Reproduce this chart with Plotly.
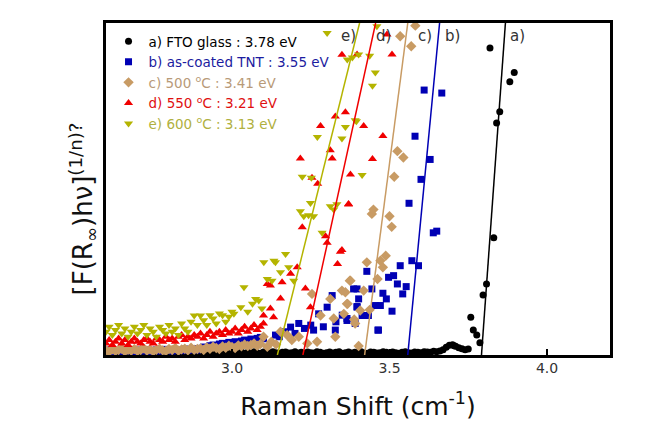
import plotly.graph_objects as go

# ---------------- data (photon energy in eV, intensity in arbitrary units) ----------------
# a) FTO glass
a_x = [2.60, 2.61, 2.62, 2.63, 2.64, 2.65, 2.66, 2.67, 2.68, 2.69,
       2.70, 2.71, 2.72, 2.73, 2.74, 2.75, 2.76, 2.77, 2.78, 2.79,
       2.80, 2.81, 2.82, 2.83, 2.84, 2.85, 2.86, 2.87, 2.88, 2.89,
       2.90, 2.91, 2.92, 2.93, 2.94, 2.95, 2.96, 2.97, 2.98, 2.99,
       3.00, 3.01, 3.02, 3.03, 3.04, 3.05, 3.06, 3.07, 3.08, 3.09,
       3.10, 3.11, 3.12, 3.13, 3.14, 3.15, 3.16, 3.17, 3.18, 3.19,
       3.20, 3.21, 3.22, 3.23, 3.24, 3.25, 3.26, 3.27, 3.28, 3.29,
       3.30, 3.31, 3.32, 3.33, 3.34, 3.35, 3.36, 3.37, 3.38, 3.39,
       3.40, 3.41, 3.42, 3.43, 3.44, 3.45, 3.46, 3.47, 3.48, 3.49,
       3.50, 3.51, 3.52, 3.53, 3.54, 3.55, 3.56, 3.57, 3.58, 3.59,
       3.60, 3.61, 3.62, 3.63, 3.64, 3.65, 3.66,
       3.67, 3.68, 3.69, 3.70, 3.705, 3.71, 3.72, 3.73, 3.74, 3.75,
       3.758, 3.766, 3.777, 3.787, 3.797, 3.808, 3.831, 3.840, 3.850, 3.882, 3.896, 3.819]
a_y = [0.6, 0.9, 0.5, 0.8, 1.0, 0.6, 0.7, 0.4, 0.9, 0.6,
       0.8, 0.5, 1.0, 0.7, 0.6, 0.9, 0.5, 0.8, 0.7, 1.0,
       0.6, 0.4, 0.8, 0.9, 0.6, 0.7, 1.0, 0.5, 0.8, 0.6,
       0.9, 0.7, 0.5, 1.0, 0.8, 0.6, 0.9, 0.7, 0.4, 0.8,
       1.0, 0.6, 0.7, 0.9, 0.5, 0.8, 0.6, 1.0, 0.7, 0.5,
       0.9, 0.8, 0.6, 1.0, 0.7, 0.5, 0.8, 0.9, 0.6, 0.7,
       1.0, 0.6, 0.8, 0.5, 0.9, 0.7, 0.6, 1.0, 0.8, 0.5,
       0.7, 0.9, 0.6, 0.8, 1.0, 0.5, 0.7, 0.9, 0.6, 0.8,
       0.7, 1.0, 0.6, 0.5, 0.9, 0.8, 0.6, 0.7, 1.0, 0.8,
       0.6, 0.9, 0.7, 0.5, 0.8, 1.0, 0.7, 0.6, 0.9, 0.8,
       0.7, 1.0, 0.9, 0.8, 1.1, 1.0, 1.2,
       1.6, 2.3, 2.9, 3.1, 2.8, 2.6, 2.2, 1.9, 1.6, 1.8,
       11.4, 7.5, 6.0, 3.7, 18.1, 21.4, 35.3, 69.9, 73.3, 82.3, 85.1, 92.5]

# b) as-coated TNT
b_x = [2.60, 2.61, 2.62, 2.63, 2.64, 2.65, 2.66, 2.67, 2.68, 2.69,
       2.70, 2.71, 2.72, 2.73, 2.74, 2.75, 2.76, 2.77, 2.78, 2.79,
       2.80, 2.81, 2.82, 2.83, 2.84, 2.85, 2.86, 2.87, 2.88, 2.89,
       2.90, 2.91, 2.92, 2.93, 2.94, 2.95, 2.96, 2.97, 2.98, 2.99,
       3.00, 3.01, 3.02, 3.03, 3.04, 3.05, 3.06, 3.07, 3.08, 3.09, 3.10,
       3.138, 3.15, 3.17, 3.186, 3.20, 3.212, 3.23, 3.25, 3.259, 3.275, 3.29,
       3.302, 3.318, 3.328, 3.33, 3.35, 3.365, 3.365, 3.386, 3.391, 3.397,
       3.397, 3.397, 3.402, 3.413, 3.428, 3.433, 3.444, 3.455, 3.463, 3.465,
       3.471, 3.479, 3.490, 3.497, 3.508, 3.513, 3.525, 3.534, 3.542, 3.553,
       3.562, 3.571, 3.581, 3.592, 3.600, 3.610, 3.629, 3.639, 3.650, 3.666]
b_y = [1.2, 1.5, 1.0, 1.4, 1.3, 1.1, 1.6, 1.2, 1.4, 1.0,
       1.5, 1.3, 1.2, 1.6, 1.1, 1.4, 1.5, 1.2, 1.3, 1.7,
       1.4, 1.2, 1.6, 1.5, 1.3, 1.8, 1.4, 1.6, 1.9, 1.5,
       2.0, 2.4, 2.1, 2.8, 3.0, 2.6, 3.3, 3.5, 3.1, 3.8,
       3.5, 4.0, 3.7, 4.2, 4.5, 4.1, 4.8, 4.4, 5.0, 5.3, 4.9,
       6.0, 5.5, 7.0, 8.4, 6.5, 9.5, 8.0, 9.0, 7.5, 12.4, 8.5,
       14.4, 17.9, 7.5, 10.0, 12.0, 11.0, 10.4, 19.9, 9.5, 14.4,
       19.9, 14.6, 16.9, 11.9, 25.2, 11.9, 19.9, 14.9, 7.5, 7.5,
       14.9, 18.6, 16.9, 23.4, 13.2, 23.9, 21.4, 26.9, 18.4, 20.6,
       45.7, 28.4, 65.9, 26.9, 52.9, 79.8, 58.9, 36.8, 37.3, 78.9]

# c) 500 oC
c_x = [2.60, 2.61, 2.62, 2.63, 2.64, 2.65, 2.66, 2.67, 2.68, 2.69,
       2.70, 2.71, 2.72, 2.73, 2.74, 2.75, 2.76, 2.77, 2.78, 2.79,
       2.80, 2.81, 2.82, 2.83, 2.84, 2.85, 2.86, 2.87, 2.88, 2.89,
       2.90, 2.91, 2.92, 2.93, 2.94, 2.95, 2.96, 2.97, 2.98, 2.99,
       3.00, 3.01, 3.02, 3.03, 3.04, 3.05, 3.06, 3.07, 3.08, 3.09, 3.10,
       3.112, 3.125, 3.14, 3.154, 3.175, 3.19, 3.212, 3.239, 3.254, 3.270,
       3.281, 3.312, 3.323, 3.328, 3.349, 3.355, 3.360, 3.365, 3.367, 3.374,
       3.376, 3.388, 3.391, 3.402, 3.407, 3.418, 3.428, 3.437, 3.444, 3.449,
       3.462, 3.471, 3.479, 3.488, 3.500, 3.507, 3.515, 3.525, 3.544, 3.534,
       3.569, 3.582]
c_y = [1.4, 1.0, 1.7, 1.2, 1.5, 1.9, 1.1, 1.6, 1.3, 1.8,
       1.2, 1.5, 2.0, 1.3, 1.7, 1.1, 1.6, 1.9, 1.4, 1.2,
       1.8, 1.5, 2.1, 1.3, 1.7, 1.9, 1.4, 2.2, 1.6, 1.8,
       2.0, 1.5, 2.3, 1.9, 2.5, 2.1, 1.8, 2.6, 2.2, 2.8,
       2.4, 2.1, 2.9, 2.6, 3.2, 2.7, 3.0, 3.5, 2.8, 3.3, 5.5,
       2.5, 4.0, 3.2, 7.0, 6.0, 4.5, 5.5, 3.5, 18.4, 4.0,
       11.9, 16.9, 11.0, 5.5, 19.4, 12.4, 18.9, 15.4, 15.4, 22.4,
       22.4, 10.7, 9.5, 2.7, 13.4, 19.4, 27.9, 13.6, 42.5, 43.8,
       22.9, 28.4, 26.4, 29.9, 41.8, 38.6, 53.7, 61.4, 59.5, 96.0,
       93.0, 99.2]

# d) 550 oC
d_x = [2.60, 2.61, 2.62, 2.63, 2.64, 2.65, 2.66, 2.67, 2.68, 2.69,
       2.70, 2.71, 2.72, 2.73, 2.74, 2.75, 2.76, 2.77, 2.78, 2.79,
       2.80, 2.81, 2.82, 2.83, 2.84, 2.85, 2.86, 2.87, 2.88, 2.89,
       2.90, 2.91, 2.92, 2.93, 2.94, 2.95, 2.96, 2.97, 2.98, 2.99,
       3.00, 3.01, 3.02, 3.03, 3.04, 3.05, 3.06, 3.07, 3.08, 3.09, 3.10,
       3.100, 3.112, 3.122, 3.122, 3.132, 3.154, 3.159, 3.186, 3.207, 3.217,
       3.223, 3.233, 3.249, 3.254, 3.272, 3.281, 3.297, 3.302, 3.312, 3.318,
       3.328, 3.335, 3.344, 3.349, 3.349, 3.360, 3.370, 3.370, 3.376, 3.397,
       3.418, 3.446, 3.479, 3.492, 3.508]
d_y = [3.5, 4.5, 3.0, 4.0, 5.0, 3.5, 4.5, 3.0, 4.0, 5.0,
       4.0, 3.5, 4.5, 5.0, 4.0, 3.5, 5.0, 4.5, 4.0, 5.5,
       4.5, 5.0, 4.0, 5.5, 6.0, 4.5, 5.5, 5.0, 6.0, 5.5,
       6.5, 5.0, 6.0, 7.0, 5.5, 6.5, 7.0, 6.0, 7.5, 6.5,
       7.0, 8.0, 6.5, 7.5, 8.5, 7.0, 8.0, 9.0, 7.5, 8.5, 9.5,
       11.9, 21.4, 14.0, 20.9, 11.4, 17.0, 21.9, 24.5, 26.4, 59.2,
       38.5, 20.0, 14.4, 53.4, 51.6, 69.0, 35.8, 33.8, 61.7, 59.2,
       71.8, 27.4, 31.1, 31.6, 90.4, 73.1, 45.3, 45.5, 54.4, 90.5,
       69.0, 59.0, 66.0, 96.5, 90.5]

# e) 600 oC
e_x = [2.60, 2.61, 2.62, 2.63, 2.64, 2.65, 2.66, 2.67, 2.68, 2.69,
       2.70, 2.71, 2.72, 2.73, 2.74, 2.75, 2.76, 2.77, 2.78, 2.79,
       2.80, 2.81, 2.82, 2.83, 2.84, 2.85, 2.86, 2.87, 2.88, 2.89,
       2.90, 2.91, 2.92, 2.93, 2.94, 2.95, 2.96, 2.97, 2.98, 2.99, 3.00,
       3.006, 3.028, 3.038, 3.050, 3.065, 3.075, 3.085, 3.095, 3.101, 3.112,
       3.127, 3.133, 3.138, 3.154, 3.170, 3.180, 3.196, 3.217, 3.223, 3.228,
       3.243, 3.249, 3.252, 3.259, 3.271, 3.286, 3.302, 3.312, 3.323, 3.333,
       3.349, 3.360, 3.366, 3.382, 3.391, 3.395, 3.402, 3.413, 3.437, 3.446,
       3.455, 3.460]
e_y = [7.0, 8.5, 6.0, 7.5, 9.0, 6.5, 8.0, 5.5, 7.0, 8.5,
       6.5, 7.5, 9.0, 6.0, 8.0, 7.0, 5.5, 8.5, 7.5, 6.5,
       9.0, 7.0, 8.0, 6.0, 9.5, 8.0, 7.0, 10.0, 11.9, 9.0,
       11.9, 10.5, 9.0, 12.0, 11.0, 9.5, 12.5, 12.0, 10.0, 11.5, 13.0,
       12.4, 14.4, 20.4, 13.0, 15.4, 16.9, 16.4, 14.0, 27.9, 22.9,
       22.4, 28.4, 27.9, 24.9, 30.4, 26.4, 22.4, 43.3, 53.7, 41.8,
       42.1, 45.8, 53.4, 41.8, 65.7, 36.8, 97.0, 44.8, 43.8, 45.4,
       65.2, 68.7, 89.0, 89.6, 70.7, 70.4, 90.5, 54.2, 90.1, 81.1,
       85.1, 99.0]

# linear fits: x at bottom (y=0) and at top (y=100) of the frame
fit_y = [0, 100]
fit_a = [3.792, 3.868]
fit_b = [3.558, 3.659]
fit_c = [3.421, 3.558]
fit_d = [3.225, 3.456]
fit_e = [3.144, 3.405]

labels = ["a) FTO glass : 3.78 eV",
          "b) as-coated TNT : 3.55 eV",
          "c) 500 <sup>o</sup>C : 3.41 eV",
          "d) 550 <sup>o</sup>C : 3.21 eV",
          "e) 600 <sup>o</sup>C : 3.13 eV"]
curve_tags = ["a)", "b)", "c)", "d)", "e)"]
tag_x = [3.907, 3.701, 3.612, 3.480, 3.369]
tag_y = 96

FONT = "DejaVu Sans"
colors = ["#000000", "#0000b4", "#c89b64", "#f00000", "#b4b400"]
text_colors = ["#000000", "#1c1ca0", "#b89a78", "#e01010", "#b0b040"]
symbols = ["circle", "square", "diamond", "triangle-up", "triangle-down"]
sizes = [7, 7, 8, 8, 8]

series = [(a_x, a_y), (b_x, b_y), (c_x, c_y), (d_x, d_y), (e_x, e_y)]
fits = [fit_a, fit_b, fit_c, fit_d, fit_e]

fig = go.Figure()
for i, (xs, ys) in enumerate(series):
    fig.add_trace(go.Scatter(
        x=xs, y=ys, mode="markers",
        name=f"<span style='color:{text_colors[i]}'>{labels[i]}</span>",
        marker=dict(symbol=symbols[i], size=sizes[i], color=colors[i], line=dict(width=0)),
    ))
for i, fx in enumerate(fits):
    fig.add_trace(go.Scatter(
        x=fx, y=fit_y, mode="lines", showlegend=False,
        line=dict(color=colors[i], width=1.5),
    ))

for t, tx in zip(curve_tags, tag_x):
    fig.add_annotation(x=tx, y=tag_y, text=t, showarrow=False,
                       font=dict(family=FONT, size=15, color="#333333"))

fig.add_annotation(xref="paper", yref="paper", x=-0.004, y=0.44,
                   text="[F(R<sub>∞</sub>)hν]<sup>(1/n)?</sup>",
                   textangle=-90, showarrow=False, xanchor="right", yanchor="middle",
                   font=dict(family=FONT, size=26, color="#111111"))

fig.update_layout(
    width=644, height=439,
    margin=dict(l=98, r=42, t=12, b=92),
    paper_bgcolor="white", plot_bgcolor="white",
    font=dict(family=FONT, color="#222222"),
    showlegend=True,
    legend=dict(x=0.005, y=0.991, xanchor="left", yanchor="top",
                bgcolor="rgba(0,0,0,0)", font=dict(family=FONT, size=13.5),
                tracegroupgap=0, itemsizing="trace"),
    xaxis=dict(range=[2.6, 4.2], tickvals=[3.0, 3.5, 4.0], ticktext=["3.0", "3.5", "4.0"],
               ticks="inside", ticklen=6, tickwidth=2, tickcolor="black",
               showline=True, linewidth=3, linecolor="black", mirror=True,
               showgrid=False, zeroline=False, ticklabelstandoff=-2,
               tickfont=dict(family=FONT, size=14, color="#333333"),
               title=dict(text="Raman Shift (cm<sup>-1</sup>)", standoff=23,
                          font=dict(family=FONT, size=25, color="#111111"))),
    yaxis=dict(range=[0, 100], showticklabels=False, ticks="",
               showline=True, linewidth=3, linecolor="black", mirror=True,
               showgrid=False, zeroline=False),
)

fig.write_html("out.html")
